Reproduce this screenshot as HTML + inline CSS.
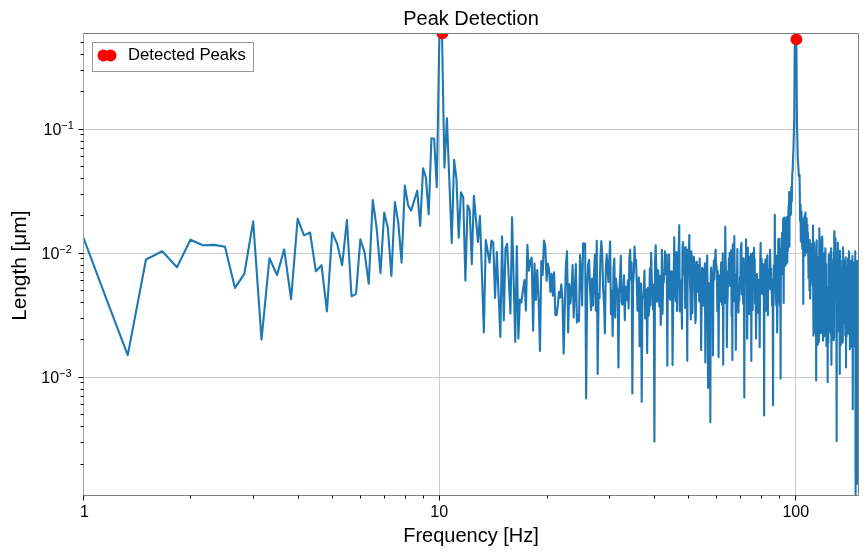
<!DOCTYPE html>
<html><head><meta charset="utf-8"><style>
html,body{margin:0;padding:0;background:#fff;}
svg{display:block;will-change:transform;}
text{font-family:"Liberation Sans",sans-serif;fill:#000;}
.g{stroke:#cccccc;stroke-width:1;}
.s{fill:none;stroke:#808080;stroke-width:1;}
.t{stroke:#000;stroke-width:1;}
.d{fill:none;stroke:#1f77b4;stroke-width:2.1;stroke-linejoin:round;stroke-linecap:butt;}
</style></head><body>
<svg width="868" height="557" viewBox="0 0 868 557">
<defs><clipPath id="c"><rect x="83.5" y="33.5" width="775.0" height="462.0"/></clipPath></defs>
<rect width="868" height="557" fill="#fff"/>
<line x1="439.5" y1="33.5" x2="439.5" y2="495.5" class="g"/>
<line x1="795.5" y1="33.5" x2="795.5" y2="495.5" class="g"/>
<line x1="83.5" y1="129.5" x2="858.5" y2="129.5" class="g"/>
<line x1="83.5" y1="253.5" x2="858.5" y2="253.5" class="g"/>
<line x1="83.5" y1="377.5" x2="858.5" y2="377.5" class="g"/>
<g clip-path="url(#c)"><path d="M83.27 237.3L107.11 300.8L127.76 355.1L145.98 259.5L162.27 251.3L177.01 267.2L190.47 239.7L202.85 245.2L214.31 244.9L224.98 246.7L234.96 287.9L244.33 273.9L253.17 221.4L261.53 339.5L269.47 258.3L277.01 275.0L284.21 249.4L291.08 299.1L297.66 218.7L303.98 235.4L310.04 232.5L315.88 271.3L321.50 265.2L326.93 311.4L332.17 232.5L337.24 244.0L342.15 265.2L346.91 220.1L351.53 296.2L356.01 293.9L360.37 239.4L364.61 252.6L368.73 283.8L372.75 200.0L376.66 228.1L380.48 273.1L384.21 212.5L387.85 228.1L391.40 276.0L394.88 202.0L398.28 222.7L401.60 262.6L404.86 185.6L408.05 205.2L411.17 210.6L414.24 200.5L417.24 190.8L420.18 226.0L423.08 168.2L425.91 177.8L428.70 214.1L431.44 138.2L434.13 138.8L436.77 187.2L439.37 36.0L441.93 30.0L444.44 167.6L446.92 118.3L449.35 180.6L451.75 242.9L454.11 159.8L456.44 178.6L458.73 237.8L460.98 192.4L463.21 197.0L465.40 280.5L467.57 205.3L469.70 210.0L471.80 264.1L473.88 195.9L475.93 219.0L477.95 242.0L479.95 216.0L481.92 274.0L483.86 332.4L485.78 240.0L487.68 251.0L489.55 262.7L491.41 240.6L493.24 242.4L495.05 297.9L496.83 252.1L498.60 295.0L500.35 337.0L502.08 236.3L503.78 320.5L505.48 248.4L507.15 243.8L508.80 279.0L510.44 313.6L512.06 217.3L513.66 280.0L515.25 341.9L516.82 246.1L518.37 338.6L519.91 299.5L521.43 302.3L522.94 290.0L524.44 280.1L525.92 310.6L527.38 244.7L528.83 270.6L530.27 261.0L531.70 257.6L533.11 330.7L534.51 263.6L535.90 300.0L537.27 270.0L538.63 300.0L539.98 351.0L541.32 261.0L542.65 275.0L543.97 240.6L545.27 246.1L546.57 281.0L547.85 263.6L549.12 270.0L550.39 292.0L551.64 273.8L552.88 295.8L554.11 272.4L555.33 315.0L556.55 315.3L557.75 306.5L558.95 291.9L560.13 297.6L561.31 284.3L562.47 298.9L563.63 353.6L564.78 307.9L565.92 264.2L567.06 251.2L568.18 332.4L569.30 284.1L570.41 303.5L571.51 290.8L572.60 265.1L573.69 317.6L574.76 291.5L575.83 264.0L576.90 322.6L577.95 315.0L579.00 321.3L580.04 254.9L581.08 271.5L582.10 305.5L583.12 243.4L584.14 247.8L585.15 243.4L586.15 398.5L587.14 288.9L588.13 264.4L589.11 259.9L590.09 289.6L591.06 310.1L592.02 278.6L592.98 305.5L593.93 276.4L594.88 254.6L595.82 310.8L596.75 240.7L597.68 374.0L598.60 293.9L599.52 298.0L600.43 256.4L601.34 241.0L602.24 254.4L603.14 289.2L604.03 302.6L604.92 333.3L605.80 269.1L606.67 254.4L607.54 267.6L608.41 281.9L609.27 260.6L610.13 241.6L610.98 314.3L611.83 291.4L612.67 336.1L613.51 268.6L614.34 258.6L615.17 317.6L616.00 278.8L616.82 288.0L617.63 289.7L618.45 367.5L619.25 293.6L620.06 276.5L620.86 255.8L621.65 302.6L622.44 304.6L623.23 293.4L624.01 275.3L624.79 320.3L625.57 286.9L626.34 291.4L627.11 300.3L627.87 280.3L628.63 308.5L629.39 257.9L630.14 249.9L630.89 279.7L631.63 262.5L632.37 393.4L633.11 283.7L633.85 272.2L634.58 246.6L635.31 263.1L636.03 260.0L636.75 282.1L637.47 310.8L638.18 300.3L638.89 277.6L639.60 346.2L640.31 289.5L641.01 283.6L641.71 402.0L642.40 296.9L643.09 297.7L643.78 288.8L644.47 270.6L645.15 318.4L645.83 290.2L646.51 289.4L647.18 353.1L647.85 288.1L648.52 316.0L649.19 310.4L649.85 268.4L650.51 305.6L651.16 252.7L651.82 281.1L652.47 285.8L653.12 309.7L653.76 284.7L654.41 441.4L655.05 262.0L655.68 245.3L656.32 269.8L656.95 301.7L657.58 269.7L658.21 270.8L658.83 296.4L659.46 306.8L660.08 275.7L660.69 325.0L661.31 310.2L661.92 249.9L662.53 313.7L663.14 283.2L663.74 282.5L664.35 271.9L664.95 251.2L665.55 267.2L666.14 274.1L666.74 254.9L667.33 365.7L667.92 265.5L668.50 291.3L669.09 254.6L669.67 296.7L670.25 299.7L670.83 273.6L671.41 271.4L671.98 271.5L672.55 365.1L673.12 308.4L673.69 277.1L674.25 237.3L674.82 294.9L675.38 296.4L675.94 301.3L676.49 252.0L677.05 311.1L677.60 279.3L678.15 285.2L678.70 248.8L679.25 225.3L679.80 311.6L680.34 280.3L680.88 281.2L681.42 296.7L681.96 328.7L682.50 247.7L683.03 242.0L683.56 274.4L684.09 247.5L684.62 260.2L685.15 308.1L685.67 247.0L686.20 307.6L686.72 265.9L687.24 360.7L687.76 249.6L688.27 272.8L688.79 258.9L689.30 235.1L689.81 279.8L690.32 291.1L690.83 319.4L691.34 251.4L691.84 258.3L692.34 313.2L692.84 280.9L693.34 281.6L693.84 256.8L694.34 269.3L694.83 281.8L695.33 323.1L695.82 317.1L696.31 261.7L696.80 261.8L697.28 291.6L697.77 264.9L698.25 271.4L698.74 287.7L699.22 301.4L699.70 258.6L700.18 296.3L700.65 283.9L701.13 350.3L701.60 301.7L702.07 267.9L702.54 297.8L703.01 305.6L703.48 291.6L703.95 268.9L704.41 272.7L704.88 263.4L705.34 362.5L705.80 310.0L706.26 266.4L706.72 282.8L707.17 255.5L707.63 296.0L708.08 387.9L708.54 287.4L708.99 283.2L709.44 292.3L709.89 288.9L710.34 422.3L710.78 274.4L711.23 267.6L711.67 296.6L712.11 294.5L712.55 273.2L712.99 355.5L713.43 274.5L713.87 260.5L714.31 279.5L714.74 260.6L715.18 256.9L715.61 249.6L716.04 262.0L716.47 266.7L716.90 272.0L717.33 311.2L717.75 270.7L718.18 289.5L718.60 357.3L719.03 289.1L719.45 275.5L719.87 301.6L720.29 287.2L720.71 279.2L721.12 262.5L721.54 291.5L721.96 304.7L722.37 297.3L722.78 253.3L723.19 364.7L723.61 282.5L724.02 297.1L724.42 271.5L724.83 302.9L725.24 226.8L725.64 261.6L726.05 273.7L726.45 271.4L726.85 347.2L727.25 309.3L727.65 295.7L728.05 275.9L728.45 277.1L728.85 258.4L729.24 280.2L729.64 252.8L730.03 285.9L730.43 256.1L730.82 274.6L731.21 250.2L731.60 316.2L731.99 269.2L732.38 360.1L732.76 244.2L733.15 257.0L733.54 285.4L733.92 301.3L734.30 236.1L734.69 272.8L735.07 301.6L735.45 295.7L735.83 350.0L736.21 300.3L736.58 273.8L736.96 288.3L737.34 249.0L737.71 302.4L738.08 307.4L738.46 312.6L738.83 289.5L739.20 301.3L739.57 288.9L739.94 277.1L740.31 286.7L740.68 251.0L741.04 246.9L741.41 242.9L741.78 294.4L742.14 275.8L742.50 282.3L742.87 292.0L743.23 304.0L743.59 258.3L743.95 266.4L744.31 397.6L744.67 286.6L745.02 273.1L745.38 274.2L745.74 282.0L746.09 239.2L746.45 279.7L746.80 273.7L747.15 338.8L747.50 303.5L747.85 247.8L748.21 308.9L748.55 284.5L748.90 292.8L749.25 314.0L749.60 267.5L749.94 256.6L750.29 276.5L750.64 285.4L750.98 253.7L751.32 361.0L751.67 274.9L752.01 287.4L752.35 268.5L752.69 310.0L753.03 252.5L753.37 267.6L753.70 287.3L754.04 247.7L754.38 287.7L754.71 259.1L755.05 303.4L755.38 296.9L755.72 302.1L756.05 338.8L756.38 304.8L756.71 276.3L757.04 274.1L757.37 298.3L757.70 307.1L758.03 312.6L758.36 291.1L758.69 279.9L759.02 301.7L759.34 298.8L759.67 347.2L759.99 295.4L760.31 259.1L760.64 242.9L760.96 290.7L761.28 292.5L761.60 258.6L761.92 293.8L762.24 276.2L762.56 264.5L762.88 290.9L763.20 264.1L763.52 291.5L763.83 299.0L764.15 415.5L764.46 265.1L764.78 280.3L765.09 274.0L765.41 259.6L765.72 310.9L766.03 281.9L766.34 305.4L766.65 282.9L766.96 268.8L767.27 255.4L767.58 300.5L767.89 315.4L768.20 274.3L768.51 274.6L768.81 279.5L769.12 269.2L769.42 288.7L769.73 263.8L770.03 249.9L770.34 260.7L770.64 273.7L770.94 289.6L771.24 268.7L771.54 285.7L771.84 293.9L772.14 305.7L772.44 281.3L772.74 311.9L773.04 405.3L773.34 279.9L773.64 304.9L773.93 265.3L774.23 283.6L774.52 270.3L774.82 214.8L775.11 279.4L775.41 285.8L775.70 289.2L775.99 294.3L776.28 305.6L776.58 255.9L776.87 261.4L777.16 332.4L777.45 307.7L777.74 295.8L778.03 274.1L778.31 239.2L778.60 284.7L778.89 264.0L779.18 253.5L779.46 238.7L779.75 302.4L780.03 306.1L780.32 277.3L780.60 378.6L780.88 251.6L781.17 268.9L781.45 248.3L781.73 272.2L782.01 233.1L782.29 273.9L782.57 271.4L782.85 252.3L783.13 218.6L783.41 271.3L783.69 303.0L783.97 217.9L784.25 217.6L784.52 237.3L784.80 266.1L785.08 263.9L785.35 224.0L785.63 239.0L785.90 264.6L786.17 228.7L786.45 217.6L786.72 223.1L786.99 235.1L787.27 262.5L787.54 216.5L787.81 251.1L788.08 232.0L788.35 214.3L788.62 205.7L788.89 227.6L789.16 192.1L789.43 246.8L789.69 193.8L789.96 202.0L790.23 211.2L790.49 215.3L790.76 211.2L791.02 214.1L791.29 186.9L791.55 196.8L791.82 201.2L792.08 181.9L792.35 172.0L792.61 170.9L792.87 163.8L793.13 156.9L793.39 150.5L793.66 141.6L793.92 130.5L794.18 122.2L794.44 90.6L794.69 48.6L794.95 40.9L795.21 38.0L795.47 38.4L795.73 38.0L795.98 36.8L796.24 37.8L796.50 54.9L796.75 95.8L797.01 125.9L797.26 135.4L797.52 147.9L797.77 159.9L798.03 162.9L798.28 165.6L798.53 169.4L798.79 175.4L799.04 176.4L799.29 176.8L799.54 174.9L799.79 193.5L800.04 221.1L800.29 217.6L800.54 204.5L800.79 241.2L801.04 240.8L801.29 217.2L801.54 211.3L801.78 242.9L802.03 236.4L802.28 248.9L802.52 230.7L802.77 218.8L803.02 219.1L803.26 304.0L803.51 229.1L803.75 238.4L803.99 251.5L804.24 226.4L804.48 216.6L804.72 216.8L804.97 214.9L805.21 255.6L805.45 212.5L805.69 225.8L805.93 224.2L806.17 249.6L806.41 218.3L806.65 218.4L806.89 237.8L807.13 252.5L807.37 224.7L807.61 252.6L807.85 232.6L808.09 245.8L808.32 261.1L808.56 278.5L808.80 265.9L809.03 264.6L809.27 264.3L809.51 290.8L809.74 240.1L809.98 277.6L810.21 298.4L810.44 279.3L810.68 243.2L810.91 268.4L811.14 258.9L811.38 260.9L811.61 254.1L811.84 260.4L812.07 253.2L812.30 247.9L812.54 279.4L812.77 285.1L813.00 225.5L813.23 297.3L813.46 335.7L813.69 265.3L813.91 333.6L814.14 242.5L814.37 248.0L814.60 255.0L814.83 251.3L815.05 306.4L815.28 319.5L815.51 269.5L815.73 297.7L815.96 263.5L816.19 380.5L816.41 270.2L816.64 240.2L816.86 273.9L817.08 285.0L817.31 256.8L817.53 304.1L817.76 344.8L817.98 338.9L818.20 272.1L818.42 276.1L818.65 291.0L818.87 342.1L819.09 319.7L819.31 228.3L819.53 275.4L819.75 236.5L819.97 265.3L820.19 265.8L820.41 271.3L820.63 299.7L820.85 272.9L821.07 333.2L821.29 295.9L821.50 240.0L821.72 315.3L821.94 328.2L822.16 236.6L822.37 240.8L822.59 327.7L822.80 291.9L823.02 340.6L823.24 261.5L823.45 280.5L823.67 253.5L823.88 292.8L824.10 316.2L824.31 265.8L824.52 323.3L824.74 336.2L824.95 318.6L825.16 271.7L825.38 248.4L825.59 334.7L825.80 297.4L826.01 275.5L826.22 264.4L826.43 346.3L826.64 311.3L826.86 324.7L827.07 325.9L827.28 326.0L827.49 288.0L827.69 382.3L827.90 289.7L828.11 293.2L828.32 342.6L828.53 311.5L828.74 254.8L828.95 330.0L829.15 292.2L829.36 255.7L829.57 331.4L829.77 323.4L829.98 278.4L830.19 270.7L830.39 252.3L830.60 327.8L830.80 333.5L831.01 328.5L831.21 248.3L831.42 364.7L831.62 319.9L831.82 308.0L832.03 294.0L832.23 262.3L832.43 327.2L832.64 339.7L832.84 308.2L833.04 327.5L833.24 316.3L833.45 259.4L833.65 340.2L833.85 252.6L834.05 337.5L834.25 235.2L834.45 231.1L834.65 276.0L834.85 255.8L835.05 299.9L835.25 301.6L835.45 238.2L835.65 282.8L835.85 270.4L836.05 296.4L836.24 262.7L836.44 339.4L836.64 441.3L836.84 274.3L837.03 333.8L837.23 276.4L837.43 282.4L837.62 262.4L837.82 242.8L838.02 330.8L838.21 317.2L838.41 295.2L838.60 280.1L838.80 272.4L838.99 287.1L839.19 274.1L839.38 319.8L839.57 321.7L839.77 374.0L839.96 250.7L840.15 289.6L840.35 271.9L840.54 301.5L840.73 345.3L840.92 268.7L841.12 304.6L841.31 339.0L841.50 329.1L841.69 308.2L841.88 306.1L842.07 306.2L842.26 260.8L842.45 295.6L842.64 342.6L842.83 338.9L843.02 247.3L843.21 323.9L843.40 318.4L843.59 260.8L843.78 267.8L843.97 268.8L844.16 265.5L844.34 277.4L844.53 260.8L844.72 271.4L844.91 276.5L845.09 281.0L845.28 335.2L845.47 260.7L845.65 257.3L845.84 269.9L846.03 367.5L846.21 304.1L846.40 274.9L846.58 336.3L846.77 266.4L846.95 309.0L847.14 287.4L847.32 298.1L847.51 333.5L847.69 274.0L847.87 280.3L848.06 258.6L848.24 320.9L848.42 266.0L848.61 262.7L848.79 333.8L848.97 251.4L849.15 260.3L849.34 313.4L849.52 275.9L849.70 295.1L849.88 349.3L850.06 332.9L850.24 282.1L850.42 262.8L850.60 323.2L850.79 260.7L850.97 346.7L851.15 343.5L851.32 281.8L851.50 329.3L851.68 311.4L851.86 312.3L852.04 293.3L852.22 331.9L852.40 256.0L852.58 315.6L852.76 409.2L852.93 282.4L853.11 347.4L853.29 343.7L853.47 275.3L853.64 284.1L853.82 292.9L854.00 310.6L854.17 328.8L854.35 262.5L854.52 299.3L854.70 345.7L854.88 325.5L855.05 304.7L855.23 251.4L855.40 316.2L855.58 505.0L855.75 260.7L855.93 345.6L856.10 332.3L856.27 310.7L856.45 282.0L856.62 280.7L856.80 271.6L856.97 269.8L857.14 310.5L857.31 261.1L857.49 484.0L857.66 340.6L857.83 300.7L858.00 272.5L858.18 287.7" class="d"/>
<circle cx="442.4" cy="33.4" r="5.9" fill="#ff0000"/>
<circle cx="796.4" cy="39.4" r="5.9" fill="#ff0000"/>
</g>
<path d="M83.0 33.5H858.5V495.5H83.0" class="s"/>
<line x1="83.5" y1="33.5" x2="83.5" y2="495.5" style="stroke:#a3a3a3;stroke-width:1"/>
<line x1="83.5" y1="495.5" x2="83.5" y2="500.5" class="t"/>
<line x1="439.5" y1="495.5" x2="439.5" y2="500.5" class="t"/>
<line x1="795.5" y1="495.5" x2="795.5" y2="500.5" class="t"/>
<line x1="190.50" y1="495.5" x2="190.50" y2="498.5" class="t"/>
<line x1="253.50" y1="495.5" x2="253.50" y2="498.5" class="t"/>
<line x1="298.50" y1="495.5" x2="298.50" y2="498.5" class="t"/>
<line x1="332.50" y1="495.5" x2="332.50" y2="498.5" class="t"/>
<line x1="360.50" y1="495.5" x2="360.50" y2="498.5" class="t"/>
<line x1="384.50" y1="495.5" x2="384.50" y2="498.5" class="t"/>
<line x1="405.50" y1="495.5" x2="405.50" y2="498.5" class="t"/>
<line x1="423.50" y1="495.5" x2="423.50" y2="498.5" class="t"/>
<line x1="547.50" y1="495.5" x2="547.50" y2="498.5" class="t"/>
<line x1="609.50" y1="495.5" x2="609.50" y2="498.5" class="t"/>
<line x1="654.50" y1="495.5" x2="654.50" y2="498.5" class="t"/>
<line x1="688.50" y1="495.5" x2="688.50" y2="498.5" class="t"/>
<line x1="716.50" y1="495.5" x2="716.50" y2="498.5" class="t"/>
<line x1="740.50" y1="495.5" x2="740.50" y2="498.5" class="t"/>
<line x1="761.50" y1="495.5" x2="761.50" y2="498.5" class="t"/>
<line x1="779.50" y1="495.5" x2="779.50" y2="498.5" class="t"/>
<line x1="78.5" y1="129.5" x2="83.5" y2="129.5" class="t"/>
<line x1="78.5" y1="253.5" x2="83.5" y2="253.5" class="t"/>
<line x1="78.5" y1="377.5" x2="83.5" y2="377.5" class="t"/>
<line x1="80.5" y1="464.50" x2="83.5" y2="464.50" class="t"/>
<line x1="80.5" y1="442.50" x2="83.5" y2="442.50" class="t"/>
<line x1="80.5" y1="426.50" x2="83.5" y2="426.50" class="t"/>
<line x1="80.5" y1="414.50" x2="83.5" y2="414.50" class="t"/>
<line x1="80.5" y1="404.50" x2="83.5" y2="404.50" class="t"/>
<line x1="80.5" y1="396.50" x2="83.5" y2="396.50" class="t"/>
<line x1="80.5" y1="389.50" x2="83.5" y2="389.50" class="t"/>
<line x1="80.5" y1="382.50" x2="83.5" y2="382.50" class="t"/>
<line x1="80.5" y1="339.50" x2="83.5" y2="339.50" class="t"/>
<line x1="80.5" y1="318.50" x2="83.5" y2="318.50" class="t"/>
<line x1="80.5" y1="302.50" x2="83.5" y2="302.50" class="t"/>
<line x1="80.5" y1="290.50" x2="83.5" y2="290.50" class="t"/>
<line x1="80.5" y1="280.50" x2="83.5" y2="280.50" class="t"/>
<line x1="80.5" y1="272.50" x2="83.5" y2="272.50" class="t"/>
<line x1="80.5" y1="265.50" x2="83.5" y2="265.50" class="t"/>
<line x1="80.5" y1="258.50" x2="83.5" y2="258.50" class="t"/>
<line x1="80.5" y1="215.50" x2="83.5" y2="215.50" class="t"/>
<line x1="80.5" y1="194.50" x2="83.5" y2="194.50" class="t"/>
<line x1="80.5" y1="178.50" x2="83.5" y2="178.50" class="t"/>
<line x1="80.5" y1="166.50" x2="83.5" y2="166.50" class="t"/>
<line x1="80.5" y1="156.50" x2="83.5" y2="156.50" class="t"/>
<line x1="80.5" y1="148.50" x2="83.5" y2="148.50" class="t"/>
<line x1="80.5" y1="141.50" x2="83.5" y2="141.50" class="t"/>
<line x1="80.5" y1="134.50" x2="83.5" y2="134.50" class="t"/>
<line x1="80.5" y1="91.50" x2="83.5" y2="91.50" class="t"/>
<line x1="80.5" y1="70.50" x2="83.5" y2="70.50" class="t"/>
<line x1="80.5" y1="54.50" x2="83.5" y2="54.50" class="t"/>
<line x1="80.5" y1="42.50" x2="83.5" y2="42.50" class="t"/>
<text x="84.40" y="517" text-anchor="middle" font-size="16">1</text>
<text x="439.15" y="517" text-anchor="middle" font-size="16">10</text>
<text x="795.80" y="517" text-anchor="middle" font-size="16">100</text>
<text x="73.9" y="134.70" text-anchor="end" font-size="16">10<tspan font-size="11" dy="-5.9">&#8722;1</tspan></text>
<text x="71.9" y="258.75" text-anchor="end" font-size="16">10<tspan font-size="11" dy="-5.9">&#8722;2</tspan></text>
<text x="71.6" y="382.80" text-anchor="end" font-size="16">10<tspan font-size="11" dy="-5.9">&#8722;3</tspan></text>
<text x="471" y="24.9" text-anchor="middle" font-size="20">Peak Detection</text>
<text x="471" y="541.8" text-anchor="middle" font-size="20">Frequency [Hz]</text>
<text transform="translate(25.7,265.7) rotate(-90)" text-anchor="middle" font-size="20" textLength="110.3" lengthAdjust="spacingAndGlyphs">Length [&#956;m]</text>
<rect x="92.5" y="42.5" width="161" height="29" fill="#fff" stroke="#999" stroke-width="1"/>
<circle cx="103.4" cy="55.5" r="5.9" fill="#ff0000"/><circle cx="110.6" cy="55.5" r="5.9" fill="#ff0000"/>
<text x="128" y="59.9" font-size="16.7">Detected Peaks</text>
</svg></body></html>
